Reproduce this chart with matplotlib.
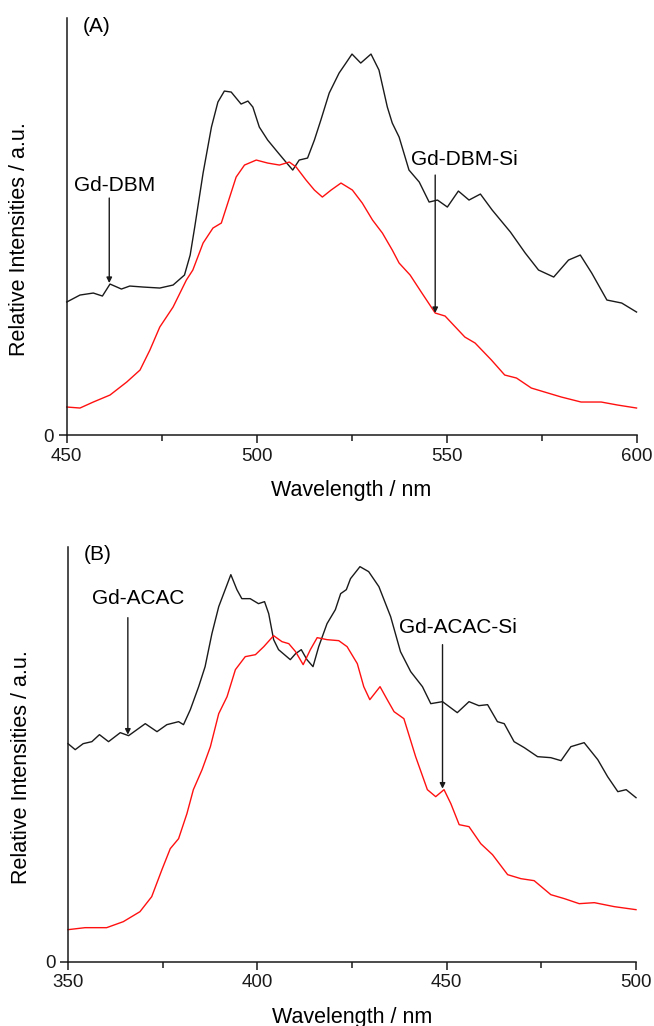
import matplotlib
matplotlib.use("Agg")
import matplotlib.pyplot as plt
from matplotlib.ticker import MultipleLocator, FixedLocator

plt.rcParams["font.family"] = ["Liberation Sans", "DejaVu Sans"]

# ---- panel A: Gd-DBM (black) / Gd-DBM-Si (red) ----
wl_a_black = [450, 453.5, 457, 459.4, 461.4, 464.4, 466.6, 470.1, 474.5, 478, 481,
              482.5, 483.7, 485.9, 488.1, 489.8, 491.5, 493.3, 495.9, 497.7, 499,
              500.7, 502.9, 505.5, 507.7, 509.5, 511.2, 513.4, 515.2, 516.9, 519.1,
              521.7, 523.5, 525.1, 527.4, 530.1, 532.2, 534.4, 535.7, 537.5, 540.1,
              542.8, 545.4, 547.6, 550.2, 553.1, 555.9, 558.9, 562, 566.8, 570.7,
              574.2, 578.2, 582.1, 585.2, 588.2, 592.2, 596.1, 600]
int_a_black = [133, 140, 142, 139, 151, 146, 149, 148, 147, 150, 160,
               180, 208, 262, 308, 333, 344, 343, 331, 334, 328,
               308, 295, 283, 273, 265, 275, 277, 295, 315, 342,
               362, 372, 381, 372, 381, 365, 328, 312, 298, 265,
               253, 233, 235, 228, 244, 235, 241, 225, 203, 182,
               165, 158, 175, 180, 162, 135, 132, 123]

wl_a_red = [450, 453.5, 457, 461.4, 465.8, 469.3, 471.9, 474.5, 478, 481.5, 483.2,
            485.9, 488.5, 490.7, 492.4, 494.6, 496.8, 499.9, 502.9, 506, 508.6,
            510.4, 513, 515.2, 517.3, 519.6, 522.2, 525.2, 527.8, 530.5, 533.1,
            535.7, 537.5, 540.4, 543.5, 547, 549.6, 554.8, 557.5, 561.8, 565.3,
            568.4, 572.3, 575.8, 580.2, 585.4, 590.7, 595, 600]
int_a_red = [28, 27, 33, 40, 53, 65, 85, 108, 128, 155, 165,
             192, 207, 212, 232, 258, 270, 275, 272, 270, 273,
             268, 255, 245, 238, 245, 252, 245, 232, 215, 202,
             185, 172, 160, 142, 122, 119, 98, 92, 75, 60,
             57, 47, 43, 38, 33, 33, 30, 27]

# ---- panel B: Gd-ACAC (black) / Gd-ACAC-Si (red) ----
wl_b_black = [350, 351.9, 354, 356.3, 358.3, 360.7, 363.8, 366, 370.4, 373.5, 376.1,
              379.2, 380.5, 382.3, 384.5, 386.2, 388, 389.8, 391.5, 393, 394.6,
              395.9, 398.1, 400.3, 401.9, 403, 404.3, 405.6, 408.7, 410.1, 411.6,
              413.1, 414.7, 416.2, 418.4, 420.6, 422, 423.5, 424.6, 427.1, 429.4,
              432.1, 435.2, 437.8, 440.5, 443.6, 445.8, 448.9, 452.8, 455.9, 458.5,
              460.8, 463.4, 465.2, 467.8, 470.5, 474, 477.5, 480.2, 482.8, 486.3,
              489.9, 492.5, 495.2, 497.4, 500]
int_b_black = [218, 212, 218, 220, 227, 220, 229, 226, 238, 230, 237,
               240, 237, 252, 275, 295, 328, 355, 372, 387, 372,
               363, 363, 358, 360, 348, 322, 312, 302, 308, 312,
               302, 295, 315, 338, 352, 368, 372, 383, 395, 390,
               375, 345, 310, 290, 275, 258, 260, 249, 260, 256,
               257, 240, 238, 220, 214, 205, 204, 201, 215, 219,
               202, 185, 170, 172, 164]

wl_b_red = [350, 354.5, 360.2, 364.6, 369, 372.1, 374.8, 377, 379.2, 381.4, 383.1,
            385.4, 387.6, 389.8, 392, 394.2, 396.8, 399.5, 401.7, 404.3, 406.5,
            408.3, 410.1, 412.1, 414, 415.8, 418.4, 421.5, 423.7, 426.4, 428.1,
            429.7, 432.4, 434.3, 436.1, 438.7, 441.8, 444.9, 447.1, 449.3, 451.1,
            453.3, 455.9, 459, 462.1, 466.1, 469.6, 473.1, 477.5, 481.1, 485,
            489, 494.3, 500]
int_b_red = [32, 34, 34, 40, 50, 65, 92, 113, 123, 148, 172,
             192, 215, 248, 265, 292, 305, 307, 315, 326, 320,
             318, 310, 297, 312, 324, 322, 321, 315, 298, 275,
             262, 275, 262, 250, 243, 205, 172, 165, 172, 158,
             137, 135, 118, 107, 87, 83, 81, 67, 63, 58,
             59, 55, 52]

# label text, label centre, arrow x, arrow start/end
notes_a = [("Gd-DBM", (462.7, 250), 461.2, 237, 152),
           ("Gd-DBM-Si", (554.7, 276), 547.0, 260, 122)]
notes_b = [("Gd-ACAC", (368.4, 363), 365.8, 344, 227),
           ("Gd-ACAC-Si", (453.0, 334), 448.9, 317, 173)]


def style_panel(ax, xlim, ytop, tag):
    ax.set_xlim(*xlim)
    ax.set_ylim(0, ytop)
    for side in ("top", "right"):
        ax.spines[side].set_visible(False)
    for side in ("left", "bottom"):
        ax.spines[side].set_linewidth(1.1)
        ax.spines[side].set_color("#1a1a1a")
    ax.xaxis.set_major_locator(MultipleLocator(50))
    ax.xaxis.set_minor_locator(MultipleLocator(25))
    ax.yaxis.set_major_locator(FixedLocator([0]))
    ax.tick_params(axis="both", which="major", direction="out", length=6,
                   width=1.1, labelsize=13.5, pad=3, colors="#1a1a1a")
    ax.tick_params(axis="x", which="minor", direction="out", length=4, width=1.1,
                   colors="#1a1a1a")
    ax.set_xlabel("Wavelength / nm", fontsize=15.5, va="center")
    ax.xaxis.set_label_coords(0.5, -0.134)
    ax.set_ylabel("Relative Intensities / a.u.", fontsize=15.5, va="center")
    ax.yaxis.set_label_coords(-0.082, 0.47)
    ax.text(0.028, 0.98, tag, transform=ax.transAxes, fontsize=15,
            ha="left", va="center")


def add_notes(ax, notes):
    for label, (tx, ty), ax_x, y0, y1 in notes:
        ax.text(tx, ty, label, fontsize=15, ha="center", va="center")
        ax.annotate("", xy=(ax_x, y1), xytext=(ax_x, y0),
                    arrowprops=dict(arrowstyle="-|>", color="#1a1a1a", lw=1.0,
                                    mutation_scale=8, shrinkA=0, shrinkB=0))


fig = plt.figure(figsize=(6.54, 10.26), dpi=100)
ax_a = fig.add_axes([0.102, 0.576, 0.8713, 0.4061])
ax_b = fig.add_axes([0.104, 0.0627, 0.8685, 0.4045])

line_kw = dict(linewidth=1.0, solid_joinstyle="round", clip_on=False)
ax_a.plot(wl_a_black, int_a_black, color="#1a1a1a", **line_kw)
ax_a.plot(wl_a_red, int_a_red, color="#ff1010", **line_kw)
style_panel(ax_a, (450, 600), 416.7, "(A)")
add_notes(ax_a, notes_a)

ax_b.plot(wl_b_black, int_b_black, color="#1a1a1a", **line_kw)
ax_b.plot(wl_b_red, int_b_red, color="#ff1010", **line_kw)
style_panel(ax_b, (350, 500), 415, "(B)")
add_notes(ax_b, notes_b)

fig.savefig("out.png", dpi=100)
